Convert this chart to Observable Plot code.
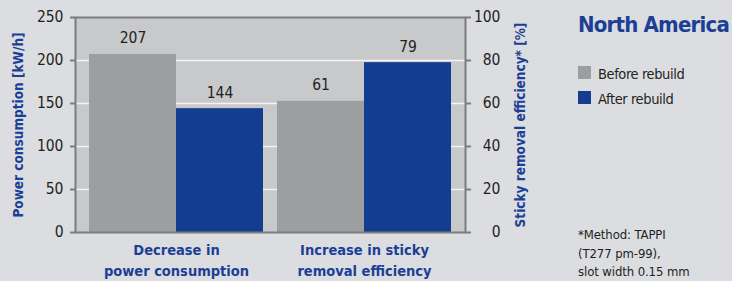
<!DOCTYPE html>
<html>
<head>
<meta charset="utf-8">
<script src="https://cdn.jsdelivr.net/npm/d3@7"></script>
<script src="https://cdn.jsdelivr.net/npm/@observablehq/plot@0.6"></script>
<style>
  html, body { margin: 0; padding: 0; background: #dcdde0; }
  #wrap { position: relative; width: 732px; height: 281px; overflow: hidden;
          font-family: "DejaVu Sans Condensed", "Liberation Sans Narrow", sans-serif; }
  #chart { position: absolute; left: 0; top: 0; }
  #side { position: absolute; left: 578px; top: 0; width: 154px; color: #231f20; }
  #title { position: absolute; left: 0; top: 12px; font-size: 22px; letter-spacing: -0.8px; font-weight: bold; color: #1b3f95; white-space: nowrap; }
  .leg { position: absolute; left: 0; font-size: 14.5px; letter-spacing: -0.4px; white-space: nowrap; line-height: 16px; }
  .sw { display: inline-block; width: 13px; height: 13px; vertical-align: top; margin-right: 7px; margin-top: 0px; }
  #note { position: absolute; left: 0; top: 226px; font-size: 13px; letter-spacing: -0.1px; line-height: 18.5px; white-space: nowrap; }
  [aria-label="cat-label"] text { letter-spacing: -0.3px; }
  [aria-label="axis-title"] text { letter-spacing: -0.2px; }
</style>
</head>
<body>
<div id="wrap">
  <div id="chart"></div>
  <div id="side">
    <div id="title"></div>
    <div id="legend"></div>
    <div id="note"></div>
  </div>
</div>
<script>
const categories = ["Decrease in\npower consumption", "Increase in sticky\nremoval efficiency"];
const seriesNames = ["Before rebuild", "After rebuild"];
const powerValues = [207, 144];   // kW/h (left axis)
const stickyValues = [61, 79];    // % (right axis)
const leftTicks = [0, 50, 100, 150, 200, 250];
const rightTicks = [0, 20, 40, 60, 80, 100];
const leftLabel = "Power consumption [kW/h]";
const rightLabel = "Sticky removal efficiency* [%]";
const regionTitle = "North America";
const noteLines = ["*Method: TAPPI", "(T277 pm-99),", "slot width 0.15 mm"];
const seriesColors = ["#9d9ea0", "#143d8f"];

const k = 250 / 100; // right axis mapped onto left scale

const rowsA = seriesNames.map((s, i) => ({key: "A|" + s, series: s, value: powerValues[i], y: powerValues[i]}));
const rowsB = seriesNames.map((s, i) => ({key: "B|" + s, series: s, value: stickyValues[i], y: stickyValues[i] * k}));
const keys = [...rowsA, ...rowsB].map(d => d.key);

const dark = "#231f20", blue = "#1b3f95", frameC = "#7b7c7e";
const font = "'DejaVu Sans Condensed', 'Liberation Sans Narrow', sans-serif";

const chart = Plot.plot({
  width: 732,
  height: 281,
  marginLeft: 75,
  marginRight: 267,
  marginTop: 17,
  marginBottom: 49,
  style: {background: "transparent", fontFamily: font, overflow: "visible"},
  x: {domain: keys, paddingInner: 0, paddingOuter: 21 / 87, axis: null},
  y: {domain: [0, 250], axis: null},
  color: {domain: seriesNames, range: seriesColors},
  marks: [
    Plot.frame({fill: "#c8c9cb"}),
    Plot.ruleY(leftTicks.slice(1, -1), {stroke: "#f4f4f4", strokeWidth: 1.5}),
    Plot.barY(rowsA, {x: "key", y: "y", fill: "series", dx: -7}),
    Plot.barY(rowsB, {x: "key", y: "y", fill: "series", dx: 7}),
    Plot.frame({stroke: frameC, strokeWidth: 2}),
    Plot.axisY({anchor: "left", ticks: leftTicks, tickSize: 5, tickPadding: 7, stroke: frameC, strokeWidth: 2,
      fill: dark, fontSize: 15.5, label: null}),
    Plot.axisY({anchor: "right", ticks: rightTicks.map(v => v * k), tickFormat: d => d / k, tickSize: 5,
      tickPadding: 30, textAnchor: "end", stroke: frameC, strokeWidth: 2, fill: dark, fontSize: 15.5, label: null}),
    Plot.text(rowsA, {x: "key", y: "y", text: "value", dx: -7, dy: -11, lineAnchor: "bottom", fill: dark, fontSize: 15.5}),
    Plot.text(rowsB, {x: "key", y: "y", text: "value", dx: 7, dy: -11, lineAnchor: "bottom", fill: dark, fontSize: 15.5}),
    Plot.text([categories[0]], {x: () => "A|" + seriesNames[1], frameAnchor: "bottom", dx: -50.5, dy: 8,
      lineAnchor: "top", lineHeight: 1.45, fill: blue, fontWeight: "bold", fontSize: 14.5, ariaLabel: "cat-label"}),
    Plot.text([categories[1]], {x: () => "B|" + seriesNames[1], frameAnchor: "bottom", dx: -36.5, dy: 8,
      lineAnchor: "top", lineHeight: 1.45, fill: blue, fontWeight: "bold", fontSize: 14.5, ariaLabel: "cat-label"}),
    Plot.text([leftLabel], {frameAnchor: "left", textAnchor: "middle", rotate: -90, dx: -57, fill: blue,
      fontWeight: "bold", fontSize: 13.5, ariaLabel: "axis-title"}),
    Plot.text([rightLabel], {frameAnchor: "right", textAnchor: "middle", rotate: -90, dx: 55, fill: blue,
      fontWeight: "bold", fontSize: 13.5, ariaLabel: "axis-title"})
  ]
});
document.getElementById("chart").appendChild(chart);

document.getElementById("title").textContent = regionTitle;
const legend = document.getElementById("legend");
seriesNames.forEach((s, i) => {
  const row = document.createElement("div");
  row.className = "leg";
  row.style.top = (66 + i * 25) + "px";
  const sw = document.createElement("span");
  sw.className = "sw";
  sw.style.background = seriesColors[i];
  row.appendChild(sw);
  row.appendChild(document.createTextNode(s));
  legend.appendChild(row);
});
document.getElementById("note").innerHTML = noteLines.map(l => l.replace(/&/g, "&amp;")).join("<br>");
</script>
</body>
</html>
